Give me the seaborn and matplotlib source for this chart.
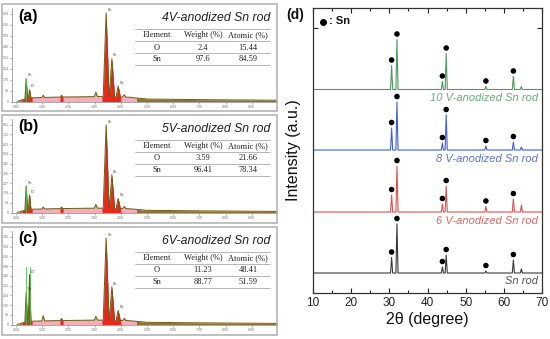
import numpy as np
import pandas as pd
import matplotlib
matplotlib.use("Agg")
import matplotlib.pyplot as plt
import seaborn as sns
from matplotlib.patches import Rectangle

sns.set_theme(style="ticks")
plt.rcParams['font.family'] = ['Liberation Sans', 'DejaVu Sans']

# ---------------- EDS data ----------------
EDS_TITLES = ["4V-anodized Sn rod", "5V-anodized Sn rod", "6V-anodized Sn rod"]
EDS_LETTERS = ["(a)", "(b)", "(c)"]
EDS_PEAK_E = [0.39, 0.52, 1.04, 1.74, 3.05, 3.44, 3.66, 3.90, 4.13]
EDS_PEAK_W = [0.05, 0.05, 0.05, 0.05, 0.06, 0.11, 0.1, 0.08, 0.06]
EDS_PEAK_LABELS = ["Sn", "O", "", "", "", "Sn", "Sn", "Sn", ""]
EDS_COUNTS_A = [184, 95, 50, 50, 75, 712, 344, 125, 55]
EDS_COUNTS_B = [243, 160, 50, 50, 75, 801, 344, 129, 55]
EDS_COUNTS_C = [290, 450, 80, 55, 75, 780, 340, 127, 55]
EDS_MARK_A = [184, 0]
EDS_MARK_B = [243, 0]
EDS_MARK_C = [522, 522]
BG_E = [0.05, 0.25, 0.6, 1.5, 2.5, 3.2, 4.3, 5.0, 7.0, 10.0]
BG_C = [0, 15, 30, 35, 38, 40, 35, 20, 15, 10]
EDS_YTICKS_A = [0, 88, 176, 264, 352, 440, 528, 616, 704]
EDS_YTICKS_B = [0, 89, 178, 267, 356, 445, 534, 623, 712, 801]
EDS_YTICKS_C = [0, 88, 176, 264, 352, 440, 528, 616, 704, 792]
EDS_YMAX = [752, 853, 844]
EDS_XTICKS = [0, 1, 2, 3, 4, 5, 6, 7, 8, 9]
TABLE_HEADER = ["Element", "Weight (%)", "Atomic (%)"]
TABLE_ELEM = ["O", "Sn"]
WEIGHT_A = ["2.4", "97.6"]
ATOMIC_A = ["15.44", "84.59"]
WEIGHT_B = ["3.59", "96.41"]
ATOMIC_B = ["21.66", "78.34"]
WEIGHT_C = ["11.23", "88.77"]
ATOMIC_C = ["48.41", "51.59"]
ROI = [(0.22, 0.62), (1.68, 1.80), (3.28, 4.00)]
PINK_RANGE = (0.2, 4.6)

# ---------------- XRD data ----------------
XRD_PEAKS = [30.6, 32.0, 43.9, 44.9, 55.3, 62.5, 64.6]
XRD_MARKED = [True, True, True, True, True, True, False]
XRD_NAMES = ["Sn rod", "6 V-anodized Sn rod", "8 V-anodized Sn rod", "10 V-anodized Sn rod"]
XRD_OFFSETS = [20, 81, 143, 203.5]
XRD_H_SN = [15.5, 49, 6, 18, 2, 13, 4]
XRD_H_6V = [17, 46, 8, 26, 5.5, 13, 7]
XRD_H_8V = [22, 48, 7, 35, 4, 8, 3]
XRD_H_10V = [24, 50, 8, 36, 3, 13, 3]
XRD_COLORS = ["#3a3a3a", "#d9534f", "#3f5fd6", "#4f9a62"]
XRD_TEXT_COLORS = ["#555555", "#e06666", "#5a72e0", "#6aab7c"]

W, H = 550, 339
fig = plt.figure(figsize=(W / 100, H / 100), dpi=100)
fig.patch.set_facecolor("white")


def px_axes(x0, y0, x1, y1, **kw):
    return fig.add_axes([x0 / W, 1 - y1 / H, (x1 - x0) / W, (y1 - y0) / H], **kw)


def eds_curve(counts):
    bg = lambda e: float(np.interp(e, BG_E, BG_C))
    pts = list(zip(BG_E, BG_C))
    pk = sorted(zip(EDS_PEAK_E, counts, EDS_PEAK_W))
    for e, c, hw in pk:
        pts = [p for p in pts if not (e - hw < p[0] < e + hw)]
        pts += [(e - hw, bg(e - hw)), (e, c), (e + hw, bg(e + hw))]
    pts.sort()
    xs = np.array([p[0] for p in pts]); ys = np.array([p[1] for p in pts])
    return xs, ys


overlay = fig.add_axes([0, 0, 1, 1], zorder=10)
overlay.set_xlim(0, W)
overlay.set_ylim(H, 0)
overlay.axis("off")
overlay.patch.set_alpha(0)

frames = [4, 115, 227]
all_counts = [EDS_COUNTS_A, EDS_COUNTS_B, EDS_COUNTS_C]
all_marks = [EDS_MARK_A, EDS_MARK_B, EDS_MARK_C]
all_yticks = [EDS_YTICKS_A, EDS_YTICKS_B, EDS_YTICKS_C]
all_weight = [WEIGHT_A, WEIGHT_B, WEIGHT_C]
all_atomic = [ATOMIC_A, ATOMIC_B, ATOMIC_C]

for i, ft in enumerate(frames):
    fb = ft + 107 if i == 0 else ft + 108
    overlay.add_patch(Rectangle((2, ft), 275, fb - ft, fill=False,
                                edgecolor="#b5b5b5", lw=1.2))
    ax = px_axes(12, ft + 4, 277, ft + 97.5)
    ax.set_xlim(-0.15, 9.96)
    ax.set_ylim(0, EDS_YMAX[i])
    xs, ys = eds_curve(all_counts[i])
    xf = np.linspace(xs.min(), xs.max(), 5000)
    yf = np.interp(xf, xs, ys)
    ax.fill_between(xf, 0, yf, color="#8a7630", lw=0)
    m = (xf >= PINK_RANGE[0]) & (xf <= PINK_RANGE[1])
    ax.fill_between(xf[m], 0, yf[m], color="#f4aebb", lw=0)
    for lo, hi in ROI:
        m = (xf >= lo) & (xf <= hi)
        ax.fill_between(xf[m], 0, yf[m], color="#e8281e", lw=0)
    sns.lineplot(x=xs, y=ys, ax=ax, color="#6e5c12", lw=0.7, sort=False,
                 estimator=None)
    for e, h in zip(EDS_PEAK_E[:2], all_marks[i]):
        if h > 0:
            ax.plot([e, e], [0, h], color="#4cbb4c", lw=0.6)
    for e, c, lab in zip(EDS_PEAK_E, all_counts[i], EDS_PEAK_LABELS):
        if lab:
            ax.text(e + 0.05, c + 10, lab, fontsize=2.6, color="#222",
                    ha="left", va="bottom")
    ax.set_xticks(EDS_XTICKS)
    ax.set_xticklabels([f"{v:.2f}" for v in EDS_XTICKS], fontsize=2.6, color="#444")
    ax.set_yticks(all_yticks[i])
    ax.set_yticklabels([str(v) for v in all_yticks[i]], fontsize=2.6, color="#444")
    ax.tick_params(length=1.2, width=0.4, pad=1, colors="#777")
    for s in ["top", "right"]:
        ax.spines[s].set_visible(False)
    for s in ["left", "bottom"]:
        ax.spines[s].set_color("#999")
        ax.spines[s].set_linewidth(0.6)
    ax.set_xlabel(""); ax.set_ylabel("")

    overlay.text(18, ft + 12, EDS_LETTERS[i], fontsize=11.5, fontweight="bold",
                 ha="left", va="center", color="black")
    overlay.text(270, ft + 14, EDS_TITLES[i], fontsize=8.8, style="italic",
                 ha="right", va="center", color="#222")
    for yy in [25, 37, 49, 61]:
        overlay.plot([135, 270], [ft + yy, ft + yy], color="#9a9a9a", lw=0.5)
    cols = [157, 203, 248]
    rows = [[TABLE_HEADER[0], TABLE_HEADER[1], TABLE_HEADER[2]],
            [TABLE_ELEM[0], all_weight[i][0], all_atomic[i][0]],
            [TABLE_ELEM[1], all_weight[i][1], all_atomic[i][1]]]
    for r, yy in zip(rows, [31, 43.5, 55]):
        for c, xx in zip(r, cols):
            overlay.text(xx, ft + yy, c, fontsize=6, family="Liberation Serif",
                         ha="center", va="center", color="#222")

# ---------------- XRD panel ----------------
axd = px_axes(313, 8, 542, 293)
heights = [XRD_H_SN, XRD_H_6V, XRD_H_8V, XRD_H_10V]
for name, off, hts, col in zip(XRD_NAMES, XRD_OFFSETS, heights, XRD_COLORS):
    xs = [10.0]; ys = [off]
    for p, h in zip(XRD_PEAKS, hts):
        hw = 0.28
        xs += [p - hw, p, p + hw]
        ys += [off, off + h, off]
    xs.append(70.0); ys.append(off)
    sns.lineplot(x=xs, y=ys, ax=axd, color=col, lw=0.8, sort=False, estimator=None)
    mx = [p for p, m in zip(XRD_PEAKS, XRD_MARKED) if m]
    my = [off + h + 5.5 for h, m in zip(hts, XRD_MARKED) if m]
    sns.scatterplot(x=mx, y=my, ax=axd, color="black", s=16, edgecolor="none")

for name, off, tc in zip(XRD_NAMES, XRD_OFFSETS, XRD_TEXT_COLORS):
    axd.text(68.9, off - 8.5, name, fontsize=8, style="italic", color=tc,
             ha="right", va="center")

axd.set_xlim(10, 70)
axd.set_ylim(0, 285)
axd.set_xticks([10, 20, 30, 40, 50, 60, 70])
axd.set_xticks([15, 25, 35, 45, 55, 65], minor=True)
axd.set_yticks([265])
axd.set_yticklabels([])
axd.tick_params(axis="x", which="major", direction="in", length=3.5, width=0.8,
                top=True, labelsize=8.5, pad=3, colors="#222")
axd.tick_params(axis="x", which="minor", direction="in", length=2.2, width=0.8,
                top=True)
axd.tick_params(axis="y", direction="in", length=3.5, width=0.8, right=True,
                left=True)
for s in axd.spines.values():
    s.set_color("#333")
    s.set_linewidth(0.9)
axd.set_xlabel("2θ (degree)", fontsize=11.5, labelpad=2, color="#111")
axd.set_ylabel("Intensity (a.u.)", fontsize=11.5, labelpad=5, color="#111")

overlay.text(295, 15, "(d)", fontsize=10, fontweight="bold", ha="center",
             va="center", color="#111")
overlay.plot([323], [21.5], "o", color="black", ms=4)
overlay.text(329, 21.5, ": Sn", fontsize=8, fontweight="bold", ha="left",
             va="center", color="#111")

fig.savefig("out.png", dpi=100)
